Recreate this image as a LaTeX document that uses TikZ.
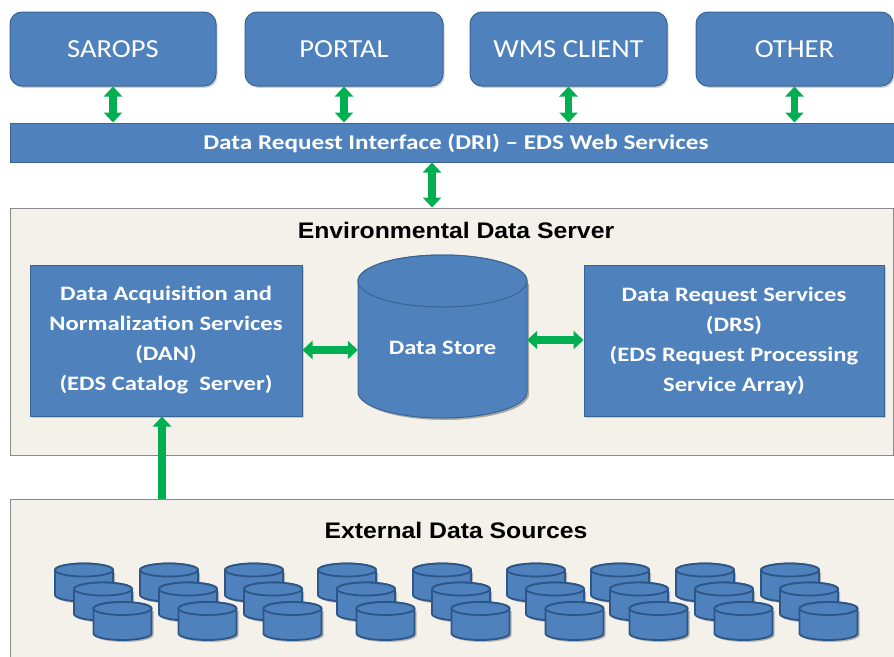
\documentclass[tikz,border=0pt]{standalone}
\usepackage{fontspec}
\setmainfont{Carlito}
\newfontfamily\clientfont[FakeStretch=1.1]{Carlito}
\newfontfamily\widefont[FakeStretch=1.2]{Carlito}
\newfontfamily\arialfont[FakeStretch=1.1]{Liberation Sans}
\usetikzlibrary{arrows.meta,shadows}

\definecolor{boxblue}{HTML}{4F81BD}
\definecolor{boxedge}{HTML}{3A6593}
\definecolor{arrgreen}{HTML}{00B050}
\definecolor{panelfill}{HTML}{F4F1EA}
\definecolor{paneledge}{HTML}{8A8A8A}
\definecolor{cyledge}{HTML}{2C5687}

\newcommand{\dbcyl}[2]{%
  \fill[black,opacity=0.25] (#1-27,#2+10) -- (#1-27,#2-14.5) arc (180:360:29 and 6.5) -- (#1+31,#2+10) -- cycle;
  \draw[cylbody] (#1-29,#2+12.5) -- (#1-29,#2-12.5) arc (180:360:29 and 6.5) -- (#1+29,#2+12.5) arc (0:180:29 and 6.5) -- cycle;
  \draw[cylbody] (#1,#2+12.5) ellipse (29 and 6.5);
}

\begin{document}
\begin{tikzpicture}[x=1pt,y=1pt,
  shade/.style={drop shadow={opacity=0.35,shadow xshift=1.5pt,shadow yshift=-2pt}},
  client/.style={draw=boxedge,line width=1pt,fill=boxblue,rounded corners=12pt,
    text=white,font=\clientfont\fontsize{26}{30}\selectfont,minimum height=74pt,inner sep=0pt,shade},
  bar/.style={draw=boxedge,line width=1pt,fill=boxblue,text=white,inner sep=0pt,
    font=\widefont\bfseries\fontsize{21}{24}\selectfont},
  panel/.style={draw=paneledge,line width=1pt,fill=panelfill,inner sep=0pt},
  paneltitle/.style={font=\arialfont\bfseries\fontsize{22.5}{26}\selectfont,text=black,inner sep=0pt},
  service/.style={draw=boxedge,line width=1pt,fill=boxblue,text=white,inner sep=0pt,
    minimum width=272pt,minimum height=151pt,align=center,
    font=\widefont\bfseries\fontsize{20.5}{30}\selectfont,shade},
  garrow/.style={draw=arrgreen,line width=7.5pt,
    arrows={Triangle[width=18pt,length=10pt,fill=arrgreen]-Triangle[width=18pt,length=10pt,fill=arrgreen]}},
  uparrow/.style={draw=arrgreen,line width=7.5pt,
    arrows={-Triangle[width=18pt,length=10pt,fill=arrgreen]}},
  cylbody/.style={fill=boxblue,draw=cyledge,line width=1.8pt}
]
\useasboundingbox (0,0) rectangle (894,-656);

% client boxes
\node[client,minimum width=206pt] (sarops) at (113,-49) {SAROPS};
\node[client,minimum width=198pt] (portal) at (344,-49) {PORTAL};
\node[client,minimum width=197pt] (wms) at (568.5,-49) {WMS CLIENT};
\node[client,minimum width=197pt] (other) at (794.5,-49) {OTHER};

% DRI bar
\node[bar,minimum width=886pt,minimum height=39pt] (dri) at (453,-142.5) {};
\node[bar,draw=none,fill=none] (dritext) at (456,-143) {Data Request Interface (DRI) – EDS Web Services};

% arrows clients <-> DRI
\draw[garrow] (sarops.south) -- (sarops.south |- dri.north);
\draw[garrow] (portal.south) -- (portal.south |- dri.north);
\draw[garrow] (wms.south) -- (wms.south |- dri.north);
\draw[garrow] (other.south) -- (other.south |- dri.north);

% EDS panel
\node[panel,minimum width=883pt,minimum height=247pt] (eds) at (451.5,-331.5) {};
\node[paneltitle] (edstitle) at (456,-230) {Environmental Data Server};

\coordinate (drix) at (432,0);
\draw[garrow] (drix |- dri.south) -- (drix |- eds.north);

% DAN and DRS
\node[service] (dan) at (166,-340.5) {Data Acquisition and\\Normalization Services\\(DAN)\\(EDS Catalog\ \ Server)};
\node[service,minimum width=300pt] (drs) at (734,-340.5) {Data Request Services\\(DRS)\\(EDS Request Processing\\Service Array)};

% Data store cylinder
\fill[black,opacity=0.3] (360,-284) -- (360,-394) arc (180:360:84.5 and 26) -- (529,-284) -- cycle;
\draw[boxedge,line width=1pt,fill=boxblue] (358,-281) -- (358,-392) arc (180:360:84.5 and 26) -- (527,-281) arc (0:180:84.5 and 26) -- cycle;
\draw[boxedge,line width=1pt,fill=boxblue] (442.5,-281) ellipse (84.5 and 26);
\node[inner sep=0pt,minimum width=169pt,minimum height=165pt,text=white,
  text height=38pt,text depth=5pt,
  font=\widefont\bfseries\fontsize{20.5}{24}\selectfont] (store) at (442.5,-337.5) {Data Store};

\draw[garrow] (dan.east |- 0,-350) -- (store.west |- 0,-350);
\draw[garrow] (store.east |- 0,-340) -- (drs.west |- 0,-340);

% External data sources panel
\node[panel,minimum width=886pt,minimum height=170pt] (ext) at (453,-584) {};
\node[paneltitle] (exttitle) at (456,-530) {External Data Sources};

\coordinate (danx) at (162,0);
\draw[uparrow] (danx |- ext.north) -- (danx |- dan.south);

% small cylinders
\foreach \gx in {55,140,225,318,413,507,591,676,761}{
  \dbcyl{\gx+29}{-582.5}
  \dbcyl{\gx+48}{-601.5}
  \dbcyl{\gx+67.5}{-621}
}
\end{tikzpicture}
\end{document}
